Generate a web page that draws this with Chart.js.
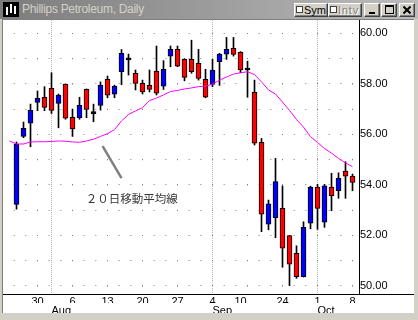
<!DOCTYPE html>
<html>
<head>
<meta charset="utf-8">
<title>Phillips Petroleum, Daily</title>
<script src="https://cdn.jsdelivr.net/npm/chart.js@4.4.0/dist/chart.umd.min.js"></script>
<style>
html, body { margin: 0; padding: 0; }
body { width: 418px; height: 320px; position: relative; overflow: hidden; background: #d4d0c8;
       font-family: 'Liberation Sans', Arial, sans-serif; }
#titlebar { position: absolute; left: 0; top: 0; width: 418px; height: 19px;
            background: linear-gradient(to right, #7c7c7c, #bcbcbc); }
#icon { position: absolute; left: 3px; top: 2px; width: 16px; height: 15px; background: #000; }
#icon i { position: absolute; width: 2px; background: #fff; }
#caption { position: absolute; left: 22px; top: 2px; font-size: 12px; line-height: 15px;
           color: #d4d0c8; letter-spacing: -0.3px; white-space: nowrap; }
.btn { position: absolute; top: 3px; height: 14px; box-sizing: border-box; background: #d4d0c8;
       border: 1px solid; border-color: #fff #404040 #404040 #fff; box-shadow: inset -1px -1px #808080;
       font-size: 11px; line-height: 12px; color: #000; white-space: nowrap; }
.btn .cb { position: absolute; left: 1px; top: 2px; width: 7px; height: 7px; box-sizing: border-box;
           border: 1px solid #404040; background: #fff; }
.btn .lbl { position: absolute; left: 9px; top: 0; }
#intv .lbl { color: #808080; text-shadow: 1px 1px #fff; letter-spacing: 0.8px; }
#minb i { position: absolute; left: 4px; top: 8px; width: 6px; height: 2px; background: #000; }
#maxb i { position: absolute; left: 3px; top: 1px; width: 9px; height: 9px; box-sizing: border-box;
          border: 1px solid #000; border-top-width: 2px; }
#closeb i { position: absolute; left: 2px; top: 5px; width: 10px; height: 2px; background: #000; }
#client { position: absolute; left: 2px; top: 19px; width: 412px; height: 294px; box-sizing: border-box;
          background: #fff; border-left: 1px solid #808080; border-top: 1px solid #808080; }
#chart { position: absolute; left: 0; top: 0; }
#frameBottom { position: absolute; left: 0; top: 313px; width: 418px; height: 7px; background: #d4d0c8; }
</style>
</head>
<body>
<div id="titlebar">
  <div id="icon"><i style="left:3px;top:5px;height:8px"></i><i style="left:7px;top:2px;height:9px"></i><i style="left:11px;top:4px;height:8px"></i></div>
  <div id="caption">Phillips Petroleum, Daily</div>
  <div class="btn" id="sym" style="left:294px;width:34px"><span class="cb"></span><span class="lbl">Sym</span></div>
  <div class="btn" id="intv" style="left:328px;width:34px"><span class="cb"></span><span class="lbl">Intv</span></div>
  <div class="btn" id="minb" style="left:364px;width:16px"><i></i></div>
  <div class="btn" id="maxb" style="left:381px;width:16px"><i></i></div>
  <div class="btn" id="closeb" style="left:399px;width:16px"><i style="transform:rotate(45deg)"></i><i style="transform:rotate(-45deg)"></i></div>
</div>
<div id="client"></div>
<canvas id="chart" width="418" height="320"></canvas>
<div id="frameBottom"></div>

<script>
// trading days, Jul 25 .. Oct 8 (market closed Sep 11-14)
const dates = ['7/25','7/26','7/27','7/30','7/31','8/1','8/2','8/3','8/6','8/7','8/8','8/9','8/10',
  '8/13','8/14','8/15','8/16','8/17','8/20','8/21','8/22','8/23','8/24','8/27','8/28','8/29','8/30',
  '8/31','9/4','9/5','9/6','9/7','9/10','9/17','9/18','9/19','9/20','9/21','9/24','9/25','9/26',
  '9/27','9/28','10/1','10/2','10/3','10/4','10/5','10/8'];

const open = [53.23, 55.92, 56.44, 57.27, 57.47, 57.82, 57.23, 57.99, 56.68, 56.66, 57.78, 56.82, 57.15,
  58.18, 57.59, 58.48, 58.95, 58.42, 58.02, 57.94, 58.51, 57.91, 59.10, 59.37, 58.97, 58.97, 58.81,
  58.18, 57.98, 58.88, 59.18, 59.41, 59.25, 58.55, 57.67, 55.69, 52.45, 52.70, 53.07, 51.99, 51.29,
  50.37, 52.48, 53.91, 52.52, 53.91, 53.77, 54.55, 54.35];
const high = [55.70, 56.49, 57.20, 57.72, 57.89, 58.44, 57.60, 58.00, 57.00, 57.47, 57.80, 57.20, 58.08,
  58.31, 57.95, 59.36, 59.18, 58.55, 58.15, 58.55, 59.50, 58.92, 59.50, 59.50, 59.00, 59.73, 59.37,
  58.58, 58.97, 59.21, 59.84, 59.84, 59.28, 58.90, 58.15, 55.84, 53.40, 55.05, 53.96, 52.00, 51.59,
  52.54, 53.95, 54.02, 54.02, 54.46, 54.48, 54.92, 54.43];
const low = [53.04, 55.87, 55.51, 56.94, 56.94, 56.83, 56.26, 56.60, 55.92, 56.60, 56.66, 56.50, 56.96,
  57.45, 57.45, 57.97, 58.35, 57.76, 57.60, 57.68, 57.56, 57.78, 58.68, 58.68, 58.12, 58.42, 58.15,
  57.45, 57.89, 57.94, 58.97, 59.10, 58.44, 57.47, 55.58, 52.15, 52.22, 51.91, 50.74, 50.01, 50.30,
  50.35, 52.26, 52.24, 52.32, 52.98, 53.47, 53.47, 53.77];
const close = [55.61, 56.24, 56.95, 57.43, 57.07, 56.95, 57.56, 56.64, 56.22, 57.15, 56.99, 56.82, 57.95,
  57.55, 57.91, 59.21, 58.95, 58.02, 57.68, 57.78, 57.63, 58.58, 59.37, 58.70, 58.26, 58.48, 58.22,
  57.47, 58.55, 59.18, 59.37, 59.17, 58.55, 58.55, 55.65, 52.84, 53.25, 54.13, 51.49, 50.86, 50.37,
  52.32, 53.91, 53.07, 53.96, 53.57, 54.26, 54.35, 54.10];

// 20-day moving average, first value is the session before 7/25
const ma20 = [55.74, 55.62, 55.62, 55.70, 55.71, 55.71, 55.72, 55.74, 55.73, 55.70, 55.69, 55.74, 55.81,
  55.92, 56.03, 56.19, 56.53, 56.79, 56.93, 57.06, 57.34, 57.44, 57.56, 57.70, 57.74, 57.80, 57.84,
  57.89, 57.91, 57.99, 58.15, 58.27, 58.39, 58.44, 58.48, 58.37, 58.08, 57.76, 57.60, 57.28, 56.95,
  56.59, 56.29, 55.91, 55.68, 55.44, 55.26, 55.05, 54.87, 54.72];

// axis ticks (indices into dates)
const dayTickIdx = [3, 8, 13, 18, 23, 28, 32, 38, 43, 48];
const dayTickLabels = ['30', '6', '13', '20', '27', '4', '10', '24', '1', '8'];
const weekGridIdx = [3, 8, 13, 18, 23, 28, 33, 38, 43, 48];
const monthTickIdx = [5, 28, 43];
const monthTickLabels = ['Aug', 'Sep', 'Oct'];
const priceTicks = [50, 51, 52, 53, 54, 55, 56, 57, 58, 59, 60];

const noteText = '２０日移動平均線';

const xMin = -12.5 / 7, xMax = 342.5 / 7;

const dayLabelAt = {};
dayTickIdx.forEach((v, k) => dayLabelAt[v] = dayTickLabels[k]);
const dayAxisTicks = Array.from(new Set(dayTickIdx.concat(weekGridIdx))).sort((a, b) => a - b);

const bodyColors = open.map((o, i) => close[i] > o ? '#0000ff' : (close[i] < o ? '#ff0000' : '#000000'));

const extras = {
  id: 'extras',
  afterDraw(chart) {
    const ctx = chart.ctx, a = chart.chartArea;
    const x = chart.scales.x, y = chart.scales.y;
    ctx.save();
    // axis line runs across the whole pane
    ctx.strokeStyle = '#000';
    ctx.lineWidth = 1;
    ctx.beginPath();
    ctx.moveTo(3, Math.round(a.bottom) + 0.5);
    ctx.lineTo(chart.width - 4, Math.round(a.bottom) + 0.5);
    ctx.stroke();
    // pointer to the moving average
    ctx.strokeStyle = '#808080';
    ctx.lineWidth = 2.5;
    ctx.beginPath();
    ctx.moveTo(x.getPixelForValue(12.3), y.getPixelForValue(55.54));
    ctx.lineTo(x.getPixelForValue(15.0), y.getPixelForValue(54.27));
    ctx.stroke();
    ctx.fillStyle = '#383838';
    ctx.font = '11.5px "Noto Sans CJK JP"';
    ctx.textBaseline = 'middle';
    ctx.fillText(noteText, x.getPixelForValue(9.9), y.getPixelForValue(53.44));
    ctx.restore();
  }
};

Chart.defaults.font.family = "'Liberation Sans', Arial, sans-serif";
Chart.defaults.font.size = 11;
Chart.defaults.color = '#000';

new Chart(document.getElementById('chart'), {
  type: 'bar',
  data: {
    datasets: [
      {
        type: 'line',
        label: '20日移動平均',
        data: ma20.map((v, i) => ({x: i - 1, y: v})),
        borderColor: '#ff00ff',
        borderWidth: 1,
        pointRadius: 0,
        tension: 0,
        order: 0
      },
      {
        label: 'body',
        data: dates.map((d, i) => ({x: i, y: [open[i], close[i]]})),
        backgroundColor: bodyColors,
        borderColor: '#000',
        borderWidth: 1,
        borderSkipped: false,
        barThickness: 5,
        minBarLength: 2,
        grouped: false,
        order: 1
      },
      {
        label: 'wick',
        data: dates.map((d, i) => ({x: i, y: [low[i], high[i]]})),
        backgroundColor: '#000',
        borderWidth: 0,
        barThickness: 1,
        grouped: false,
        order: 2
      }
    ]
  },
  options: {
    responsive: false,
    animation: false,
    devicePixelRatio: 1,
    layout: { padding: { left: 4, top: 20, right: 4, bottom: 0 } },
    plugins: { legend: { display: false }, tooltip: { enabled: false } },
    scales: {
      x: {
        type: 'linear', position: 'bottom', min: xMin, max: xMax, weight: 0, offset: false,
        afterBuildTicks: s => { s.ticks = dayAxisTicks.map(v => ({value: v})); },
        afterFit: s => { s.height = 9; },
        ticks: { autoSkip: false, maxRotation: 0, padding: 1, callback: v => dayLabelAt[v] || '' },
        grid: {
          offset: false,
          drawTicks: false,
          color: c => (c.tick && weekGridIdx.includes(c.tick.value)) ? '#808080' : 'rgba(0,0,0,0)'
        },
        border: { display: false, dash: [1, 24.25], dashOffset: 12.25 }
      },
      x2: {
        type: 'linear', position: 'bottom', min: xMin, max: xMax, weight: 1, offset: false,
        afterBuildTicks: s => { s.ticks = monthTickIdx.map(v => ({value: v})); },
        afterFit: s => { s.height = 17; },
        ticks: { autoSkip: false, maxRotation: 0, padding: 1, align: 'start',
                 callback: v => monthTickLabels[monthTickIdx.indexOf(v)] || '' },
        grid: { offset: false, drawTicks: false, color: '#b8b8b8' },
        border: { display: false, dash: [1, 1] }
      },
      y: {
        position: 'right', min: 49.68, max: 60.53,
        afterBuildTicks: s => { s.ticks = priceTicks.map(v => ({value: v})); },
        afterFit: s => { s.width = 55; },
        ticks: { padding: 1, callback: v => v % 2 === 0 ? v.toFixed(2) : '' },
        grid: { drawTicks: false, color: '#808080' },
        border: { display: true, color: '#000', width: 1, dash: [1, 10.667], dashOffset: 2 }
      }
    }
  },
  plugins: [extras]
});
</script>
</body>
</html>
